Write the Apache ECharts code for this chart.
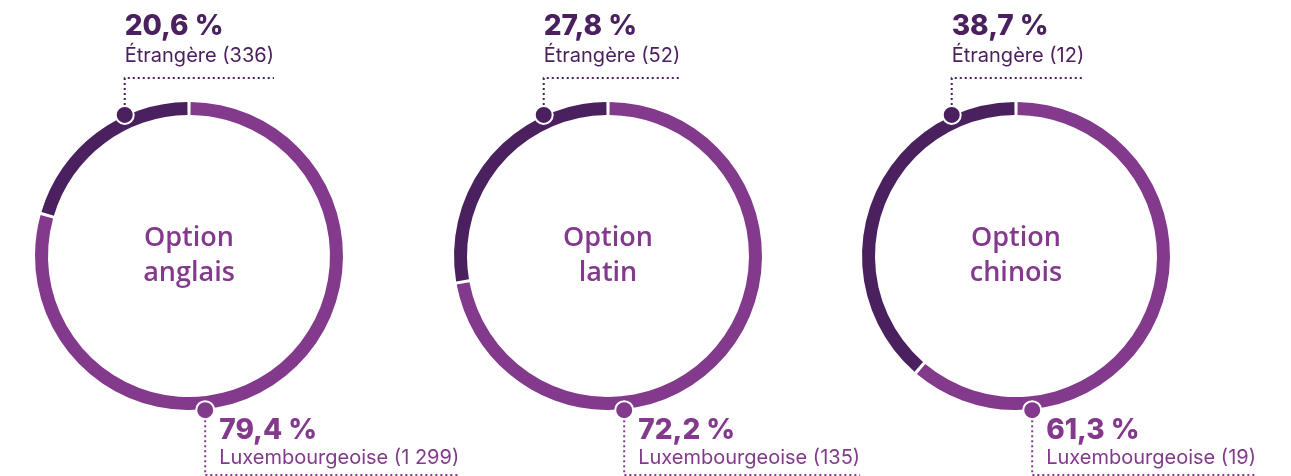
<!DOCTYPE html>
<html>
<head>
    <meta charset="utf-8" />
    <title></title>
    <style>
        html, body {
            margin: 0;
            padding: 0;
            background: #fff;
        }
        #chart {
            width: 1291px;
            height: 476px;
        }
    </style>
    <script src="https://cdn.jsdelivr.net/npm/echarts@6/dist/echarts.min.js"></script>
</head>
<body>
    <div id="chart"></div>
    <script>
        // données
        var options = ['Option\nanglais', 'Option\nlatin', 'Option\nchinois'];
        var luxCounts = [1299, 135, 19];
        var etrCounts = [336, 52, 12];
        var luxName = 'Luxembourgeoise';
        var etrName = 'Étrangère';

        var lightColor = '#833a8d';
        var darkColor = '#4a215e';
        var centersX = [189, 608, 1016];
        var centerY = 256;
        var rIn = 141, rOut = 154, rDot = 155;

        var ctx = document.createElement('canvas').getContext('2d');
        function textWidth(txt, font) {
            ctx.font = font;
            return ctx.measureText(txt).width;
        }
        function pct(a, total) {
            return (a / total * 100).toFixed(1).replace('.', ',') + ' %';
        }
        function fmtCount(n) {
            return String(n).replace(/\B(?=(\d{3})+(?!\d))/g, ' ');
        }

        var pctFont = '800 28px Inter';
        var subFont = '400 20px Inter';

        var series = [];
        var graphics = [];
        for (var i = 0; i < options.length; i++) {
            var cx = centersX[i];
            var total = luxCounts[i] + etrCounts[i];
            series.push({
                type: 'pie',
                name: options[i],
                center: [cx, centerY],
                radius: [rIn, rOut],
                startAngle: 90,
                clockwise: true,
                padAngle: 1.2,
                silent: true,
                animation: false,
                label: {
                    show: true,
                    position: 'center',
                    formatter: options[i],
                    color: lightColor,
                    fontFamily: 'Open Sans',
                    fontWeight: 600,
                    fontSize: 27,
                    lineHeight: 35
                },
                labelLine: { show: false },
                data: [
                    { name: luxName, value: luxCounts[i], itemStyle: { color: lightColor } },
                    { name: etrName, value: etrCounts[i], itemStyle: { color: darkColor }, label: { show: false } }
                ]
            });

            // points et lignes pointillées (étrangère en haut, luxembourgeoise en bas)
            var aTop = 114.5 * Math.PI / 180;
            var topX = cx + rDot * Math.cos(aTop);
            var topY = centerY - rDot * Math.sin(aTop);
            var aBot = -84 * Math.PI / 180;
            var botX = cx + rDot * Math.cos(aBot);
            var botY = centerY - rDot * Math.sin(aBot);

            var etrSub = etrName + ' (' + fmtCount(etrCounts[i]) + ')';
            var luxSub = luxName + ' (' + fmtCount(luxCounts[i]) + ')';
            var topLen = textWidth(etrSub, subFont);
            var botLen = 14 + textWidth(luxSub, subFont);

            graphics.push({
                type: 'polyline',
                shape: { points: [[topX, topY], [topX, 78], [topX + topLen, 78]] },
                style: { stroke: darkColor, lineWidth: 2, lineDash: [2, 3], fill: null }
            });
            graphics.push({
                type: 'polyline',
                shape: { points: [[botX, botY], [botX, 475], [botX + botLen, 475]] },
                style: { stroke: lightColor, lineWidth: 2, lineDash: [2, 3], fill: null }
            });
            graphics.push({
                type: 'circle',
                shape: { cx: topX, cy: topY, r: 9 },
                style: { fill: darkColor, stroke: '#fff', lineWidth: 2 },
                z: 10
            });
            graphics.push({
                type: 'circle',
                shape: { cx: botX, cy: botY, r: 9 },
                style: { fill: lightColor, stroke: '#fff', lineWidth: 2 },
                z: 10
            });
            graphics.push({
                type: 'text',
                x: topX, y: 27,
                style: { text: pct(etrCounts[i], total), font: pctFont, fill: darkColor, verticalAlign: 'middle' }
            });
            graphics.push({
                type: 'text',
                x: topX, y: 56,
                style: { text: etrSub, font: subFont, fill: darkColor, verticalAlign: 'middle' }
            });
            graphics.push({
                type: 'text',
                x: botX + 14, y: 431,
                style: { text: pct(luxCounts[i], total), font: pctFont, fill: lightColor, verticalAlign: 'middle' }
            });
            graphics.push({
                type: 'text',
                x: botX + 14, y: 458,
                style: { text: luxSub, font: subFont, fill: lightColor, verticalAlign: 'middle' }
            });
        }

        var myChart = echarts.init(document.getElementById('chart'));
        myChart.setOption({
            backgroundColor: '#fff',
            animation: false,
            series: series,
            graphic: graphics
        });
    </script>
</body>
</html>
